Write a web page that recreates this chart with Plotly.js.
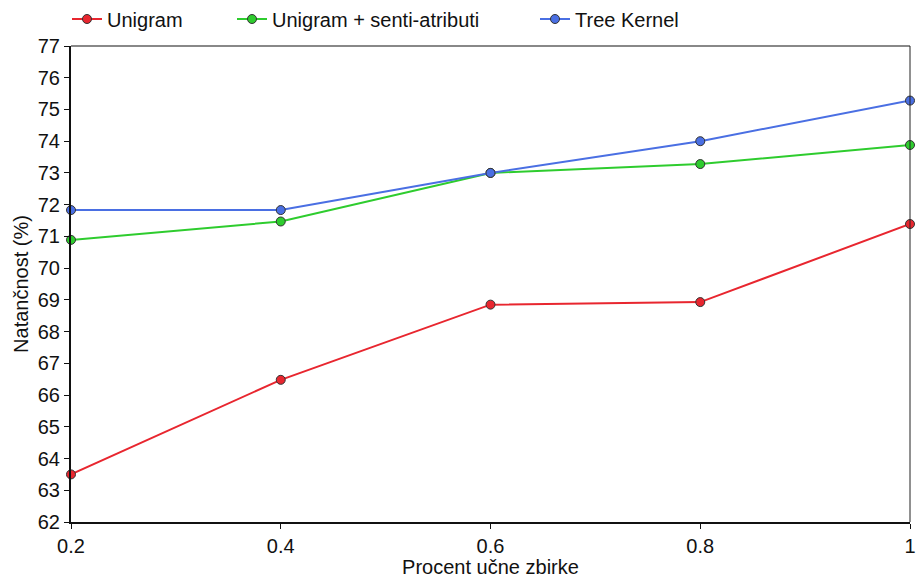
<!DOCTYPE html>
<html>
<head>
<meta charset="utf-8">
<script src="https://cdn.plot.ly/plotly-3.0.1.min.js"></script>
<style>html,body{margin:0;padding:0;background:#fff;}#chart{width:916px;height:578px;}</style>
</head>
<body>
<div id="chart"></div>
<script>
const xValues = [0.2, 0.4, 0.6, 0.8, 1];
const unigram = [63.5, 66.48, 68.85, 68.93, 71.39];
const unigramSenti = [70.89, 71.47, 73.0, 73.28, 73.88];
const treeKernel = [71.83, 71.83, 73.0, 74.0, 75.28];
const seriesNames = ["Unigram", "Unigram + senti-atributi", "Tree Kernel"];
const seriesColors = ["#e8262f", "#2ecc2e", "#4a6fe3"];
const xTickVals = [0.2, 0.4, 0.6, 0.8, 1];
const xTickText = ["0.2", "0.4", "0.6", "0.8", "1"];
const yTickVals = [62,63,64,65,66,67,68,69,70,71,72,73,74,75,76,77];

const legendIds = ['legend', 'legend2', 'legend3'];
const allSeries = [unigram, unigramSenti, treeKernel];
const traces = allSeries.map((ys, i) => ({
  x: xValues, y: ys, name: seriesNames[i], type: 'scatter', mode: 'lines+markers',
  legend: legendIds[i],
  line: {color: seriesColors[i], width: 2},
  marker: {color: seriesColors[i], size: 9, line: {color: '#333', width: 1}},
  cliponaxis: false
}));

const legendY = (522 - 19) / 476;
function legendAt(px) {
  return {orientation: 'h', x: (px - 71) / 839, xanchor: 'left', y: legendY, yanchor: 'middle',
    font: {size: 20}, bgcolor: 'rgba(0,0,0,0)'};
}

const layout = {
  width: 916, height: 578,
  margin: {l: 71, r: 6, t: 46, b: 56, autoexpand: false},
  paper_bgcolor: '#fff', plot_bgcolor: '#fff',
  font: {family: "'Liberation Sans', Arial, sans-serif", color: '#111', size: 20},
  showlegend: true,
  legend: legendAt(67),
  legend2: legendAt(232),
  legend3: legendAt(535),
  xaxis: {
    range: [0.2, 1], tickvals: xTickVals, ticktext: xTickText,
    showgrid: false, zeroline: false, showline: true, linecolor: '#111', linewidth: 2,
    ticks: 'outside', ticklen: 5, tickcolor: '#111', tickwidth: 1,
    tickfont: {size: 20}, automargin: false,
    title: {text: 'Procent učne zbirke', font: {size: 20}, standoff: 9}
  },
  yaxis: {
    range: [62, 77], tickvals: yTickVals,
    showgrid: false, zeroline: false, showline: true, linecolor: '#111', linewidth: 2,
    ticks: 'outside', ticklen: 5, tickcolor: '#111', tickwidth: 1,
    tickfont: {size: 20}, automargin: false,
    title: {text: 'Natančnost (%)', font: {size: 20}, standoff: 4}
  },
  shapes: [
    {type: 'line', xref: 'paper', yref: 'paper', x0: 0, x1: 1, y0: 1, y1: 1, line: {color: '#888', width: 2}},
    {type: 'line', xref: 'paper', yref: 'paper', x0: 1, x1: 1, y0: 0, y1: 1, line: {color: '#222', width: 1}}
  ]
};

Plotly.newPlot('chart', traces, layout, {displayModeBar: false, staticPlot: true});
</script>
</body>
</html>
